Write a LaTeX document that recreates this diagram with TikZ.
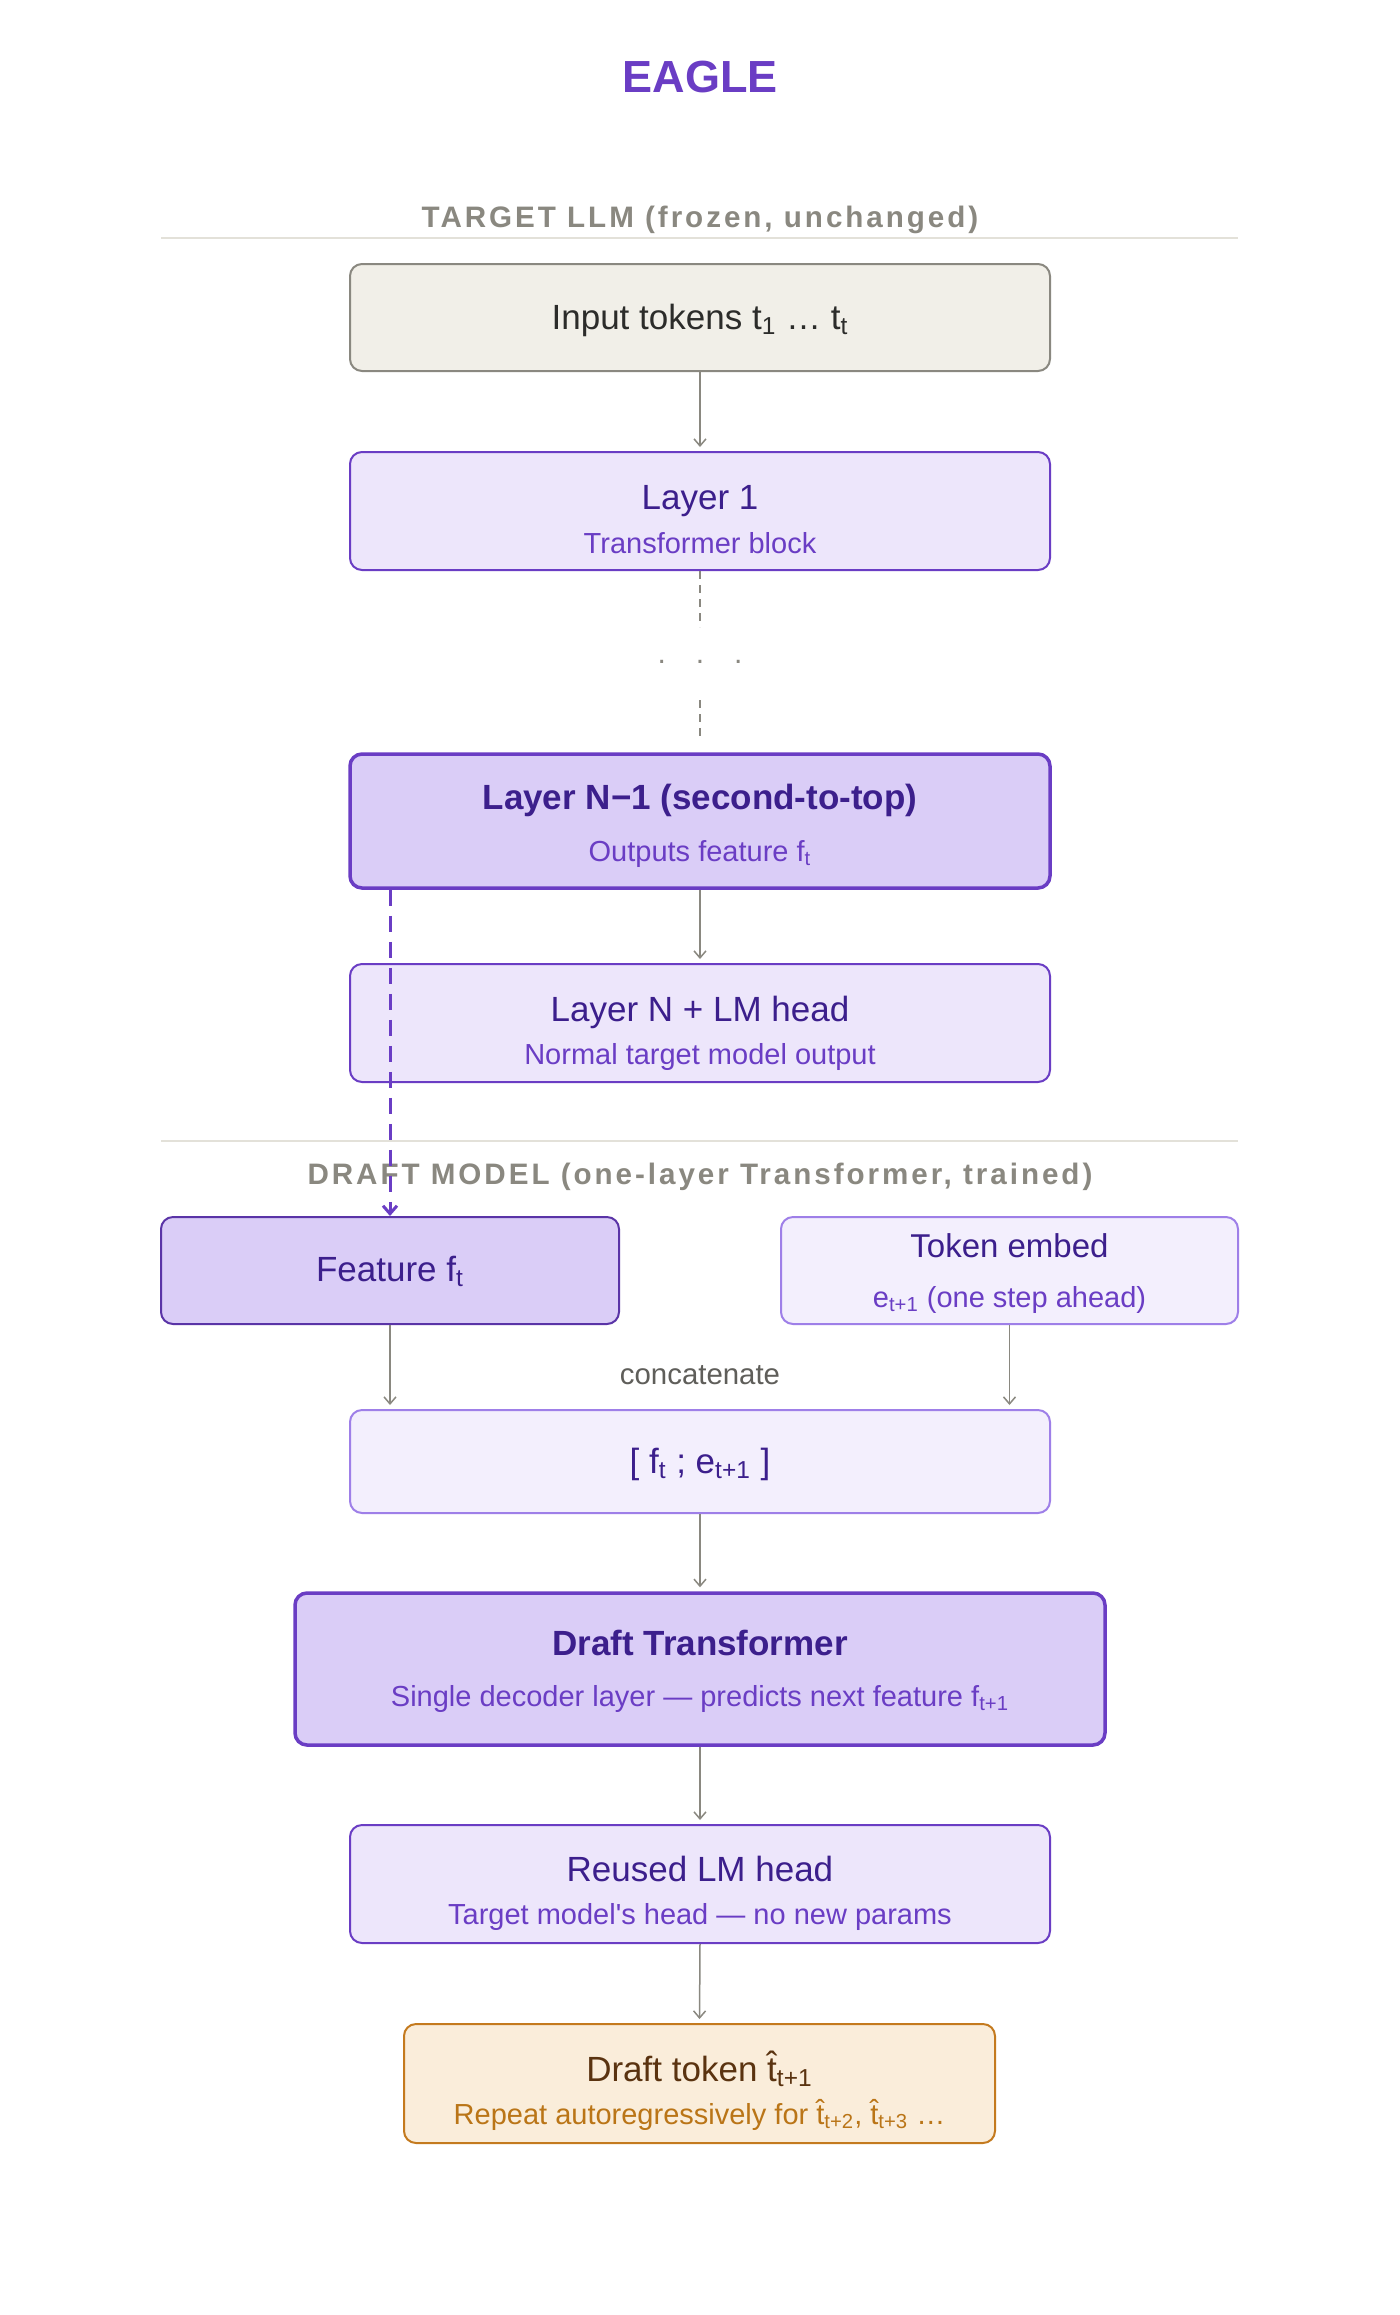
\documentclass[tikz,border=0pt]{standalone}
\usepackage{fontspec}
\setmainfont{Liberation Sans}
\newfontfamily\headfont[LetterSpace=10]{Liberation Sans}
\usetikzlibrary{arrows.meta,calc}

\definecolor{eaglePurple}{HTML}{6A3DC4}
\definecolor{inkPurple}{HTML}{3C1F8C}
\definecolor{lavFill}{HTML}{EDE6FB}
\definecolor{lavMid}{HTML}{DACDF7}
\definecolor{lavPale}{HTML}{F3EFFD}
\definecolor{lavLine}{HTML}{9E7FE8}
\definecolor{sandFill}{HTML}{F1EFE8}
\definecolor{sandLine}{HTML}{8A8880}
\definecolor{inkDark}{HTML}{2C2C2A}
\definecolor{greyText}{HTML}{8A8880}
\definecolor{greyLine}{HTML}{8A8880}
\definecolor{concGrey}{HTML}{5F5E5A}
\definecolor{sepLine}{HTML}{E3E1D9}
\definecolor{amberFill}{HTML}{FAEDDA}
\definecolor{amberLine}{HTML}{C47A1E}
\definecolor{amberInk}{HTML}{5A3310}
\definecolor{amberText}{HTML}{BA7517}

\begin{document}
\begin{tikzpicture}[
  x=0.5pt, y=-0.5pt,
  basebox/.style={rounded corners=6pt, line width=1pt, inner sep=0pt},
  sandbox/.style={basebox, draw=sandLine, fill=sandFill, minimum width=350pt},
  layerbox/.style={basebox, draw=eaglePurple, fill=lavFill, minimum width=350pt, minimum height=59pt},
  keybox/.style={basebox, draw=eaglePurple, fill=lavMid, line width=1.75pt},
  featbox/.style={basebox, draw=eaglePurple!85!black, fill=lavMid},
  palebox/.style={basebox, draw=lavLine, fill=lavPale},
  amberbox/.style={basebox, draw=amberLine, fill=amberFill},
  ttl/.style={anchor=base, text=inkPurple, font=\fontsize{17.5}{21}\selectfont},
  ttlb/.style={anchor=base, text=inkPurple, font=\fontsize{17.5}{21}\selectfont\bfseries},
  sub/.style={anchor=base, text=eaglePurple, font=\fontsize{14.5}{17}\selectfont},
  head/.style={anchor=base, text=greyText, font=\headfont\bfseries\fontsize{14.8}{18}\selectfont},
  sepline/.style={draw=sepLine, line width=1pt},
  arrow/.style={draw=greyLine, line width=0.75pt, -{Straight Barb[length=3.5pt,width=6pt]}, shorten >=2pt},
  dashline/.style={draw=greyLine, line width=0.75pt, dash pattern=on 4pt off 3pt},
  featarrow/.style={draw=eaglePurple, line width=1.5pt, dash pattern=on 8pt off 5pt,
                    -{Straight Barb[length=4pt,width=7pt]}}
]

% Canvas
\fill[white] (0,0) rectangle (1400,2315);
\useasboundingbox (0,0) rectangle (1400,2315);

% Title
\node[anchor=base, text=eaglePurple, font=\fontsize{22.5}{26}\selectfont\bfseries] (title) at (700,92) {EAGLE};

% Target LLM
\node[head] (tgthead) at (700,227) {TARGET LLM (frozen, unchanged)};
\draw[sepline] (161,238) -- (1238,238);

\node[sandbox, minimum height=53.5pt] (inp) at (700,317.5) {};
\node[layerbox] (l1) at (700,511) {};
\node[keybox, minimum width=350pt, minimum height=67pt] (lnm1) at (700,821) {};
\node[layerbox] (ln) at (700,1023) {};

\node[anchor=base, text=inkDark, font=\fontsize{17.5}{21}\selectfont] (inpt) at ($(inp.north)+(0,66)$)
  {Input tokens t\textsubscript{1} … t\textsubscript{t}};
\node[ttl] (l1t) at ($(l1.north)+(0,58)$) {Layer 1};
\node[sub] (l1s) at ($(l1.north)+(0,102)$) {Transformer block};
\node[ttlb] (lnm1t) at ($(lnm1.north)+(0,57)$) {Layer N−1 (second-to-top)};
\node[sub] (lnm1s) at ($(lnm1.north)+(0,109)$) {Outputs feature f\textsubscript{t}};
\node[ttl] (lnt) at ($(ln.north)+(0,58)$) {Layer N + LM head};
\node[sub] (lns) at ($(ln.north)+(0,101)$) {Normal target model output};

\node[text=greyLine, font=\fontsize{15}{18}\selectfont, inner sep=1pt] (gap) at (700,662)
  {.\hspace{15pt}.\hspace{15pt}.};

\draw[arrow] (inp.south) -- (l1.north);
\draw[dashline, shorten >=17.5pt] (l1.south) -- (gap.center);
\draw[dashline, shorten <=19pt, shorten >=7.5pt] (gap.center) -- (lnm1.north);
\draw[arrow] (lnm1.south) -- (ln.north);

% Draft model
\draw[sepline] (161,1141) -- (1238,1141);
\node[head] (drfhead) at (700,1184) {DRAFT MODEL (one-layer Transformer, trained)};

\node[featbox, minimum width=229pt, minimum height=53.5pt] (feat) at (390,1270.5) {};
\node[palebox, minimum width=228.5pt, minimum height=53.5pt] (tok) at (1009.5,1270.5) {};
\node[palebox, minimum width=350pt, minimum height=51.5pt] (cat) at (700,1461.5) {};
\node[keybox, minimum width=405pt, minimum height=76pt] (dtr) at (700,1669) {};
\node[layerbox] (lmh) at (700,1884) {};
\node[amberbox, minimum width=295.5pt, minimum height=59.5pt] (dtok) at (699.5,2083.5) {};

\node[ttl] (featt) at ($(feat.north)+(0,65)$) {Feature f\textsubscript{t}};
\node[ttl, font=\fontsize{16.5}{20}\selectfont] (tokt) at ($(tok.north)+(0,41)$) {Token embed};
\node[sub] (toks) at ($(tok.north)+(0,91)$) {e\textsubscript{t+1} (one step ahead)};
\node[anchor=base, text=concGrey, font=\fontsize{14.7}{18}\selectfont] (catlbl) at (700,1384) {concatenate};
\node[ttl] (catt) at ($(cat.north)+(0,64)$) {[ f\textsubscript{t} ; e\textsubscript{t+1} ]};
\node[ttlb] (dtrt) at ($(dtr.north)+(0,64)$) {Draft Transformer};
\node[sub] (dtrs) at ($(dtr.north)+(0,115)$) {Single decoder layer — predicts next feature f\textsubscript{t+1}};
\node[ttl] (lmht) at ($(lmh.north)+(0,57)$) {Reused LM head};
\node[sub] (lmhs) at ($(lmh.north)+(0,100)$) {Target model\textquotesingle s head — no new params};
\node[anchor=base, text=amberInk, font=\fontsize{17.5}{21}\selectfont] (dtokt) at ($(dtok.north)+(0,58)$)
  {Draft token \^{t}\textsubscript{t+1}};
\node[anchor=base, text=amberText, font=\fontsize{14.5}{17}\selectfont] (dtoks) at ($(dtok.north)+(0,101)$)
  {Repeat autoregressively for \^{t}\textsubscript{t+2}, \^{t}\textsubscript{t+3} …};

% Connectors
\draw[featarrow] (lnm1.south -| feat.north) -- (feat.north);
\draw[arrow] (feat.south) -- (feat.south |- cat.north);
\draw[arrow] (tok.south) -- (tok.south |- cat.north);
\draw[arrow] (cat.south) -- (dtr.north);
\draw[arrow] (dtr.south) -- (lmh.north);
\draw[arrow] (lmh.south) -- (dtok.north);

\end{tikzpicture}
\end{document}
